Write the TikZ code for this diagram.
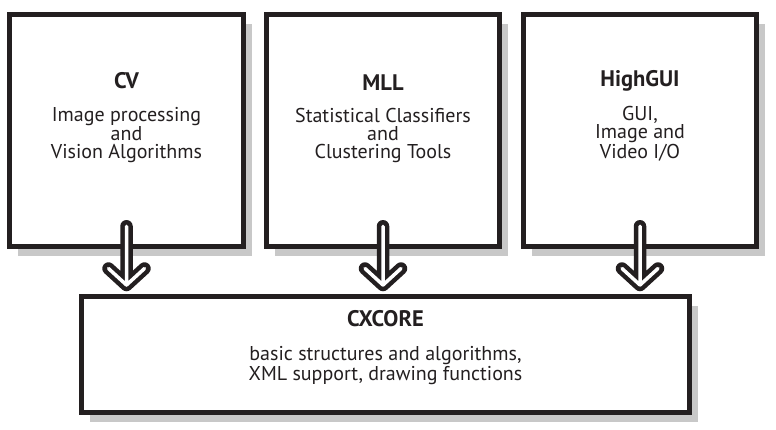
\documentclass[tikz,border=0pt]{standalone}
\usepackage{fontspec}
\setmainfont{PT Sans}
\usetikzlibrary{shadows,calc}
\definecolor{ink}{RGB}{35,31,32}
\definecolor{shade}{RGB}{200,200,200}
\newcommand{\modtitle}[1]{{\fontsize{22.5}{17.7}\selectfont\bfseries #1}}
\begin{document}
\begin{tikzpicture}[x=1pt,y=-1pt,
  module/.style={draw=ink, line width=5pt, fill=white, outer sep=0pt, inner sep=0pt,
     drop shadow={shadow xshift=8.5pt, shadow yshift=-9.5pt, fill=shade, opacity=1}},
  caption/.style={text=ink, font=\fontsize{20}{17.7}\selectfont, align=center, anchor=base, inner sep=0pt},
  hollowarrow/.style={draw=ink, double=white, line width=4.5pt, double distance=3.5pt, line cap=round, line join=round}]
\useasboundingbox (0,0) rectangle (776,429);

\node[module, minimum width=234pt, minimum height=232pt] (cv) at (126.5,130.5) {};
\node[module, minimum width=233pt, minimum height=232pt] (mll) at (383,130.5) {};
\node[module, minimum width=233pt, minimum height=232pt] (gui) at (640,130.5) {};
\node[module, minimum width=608pt, minimum height=116pt] (core) at (385.5,354.5) {};

\node[caption] (cvtext) at (126.5,158) {\modtitle{CV}\\[14.8pt]Image processing\\and\\Vision Algorithms};
\node[caption] (mlltext) at (383,158) {\modtitle{MLL}\\[14.8pt]Statistical Classifiers\\and\\Clustering Tools};
\node[caption] (guitext) at (640,158) {\modtitle{HighGUI}\\[14.8pt]GUI,\\Image and\\Video I/O};
\node[caption] (coretext) at (385.5,380) {\modtitle{CXCORE}\\[16pt]basic structures and algorithms,\\XML support, drawing functions};

\foreach \b in {cv,mll,gui}{
  \coordinate (\b top) at ($(\b.south)+(0,-20.25)$);
  \coordinate (\b tip) at ($(\b.south |- core.north)+(0,-11.5)$);
  \draw[hollowarrow] (\b top) -- (\b tip)
     ($(\b tip)+(-18,-16.5)$) -- (\b tip) -- ($(\b tip)+(18,-16.5)$);
}
\end{tikzpicture}
\end{document}
